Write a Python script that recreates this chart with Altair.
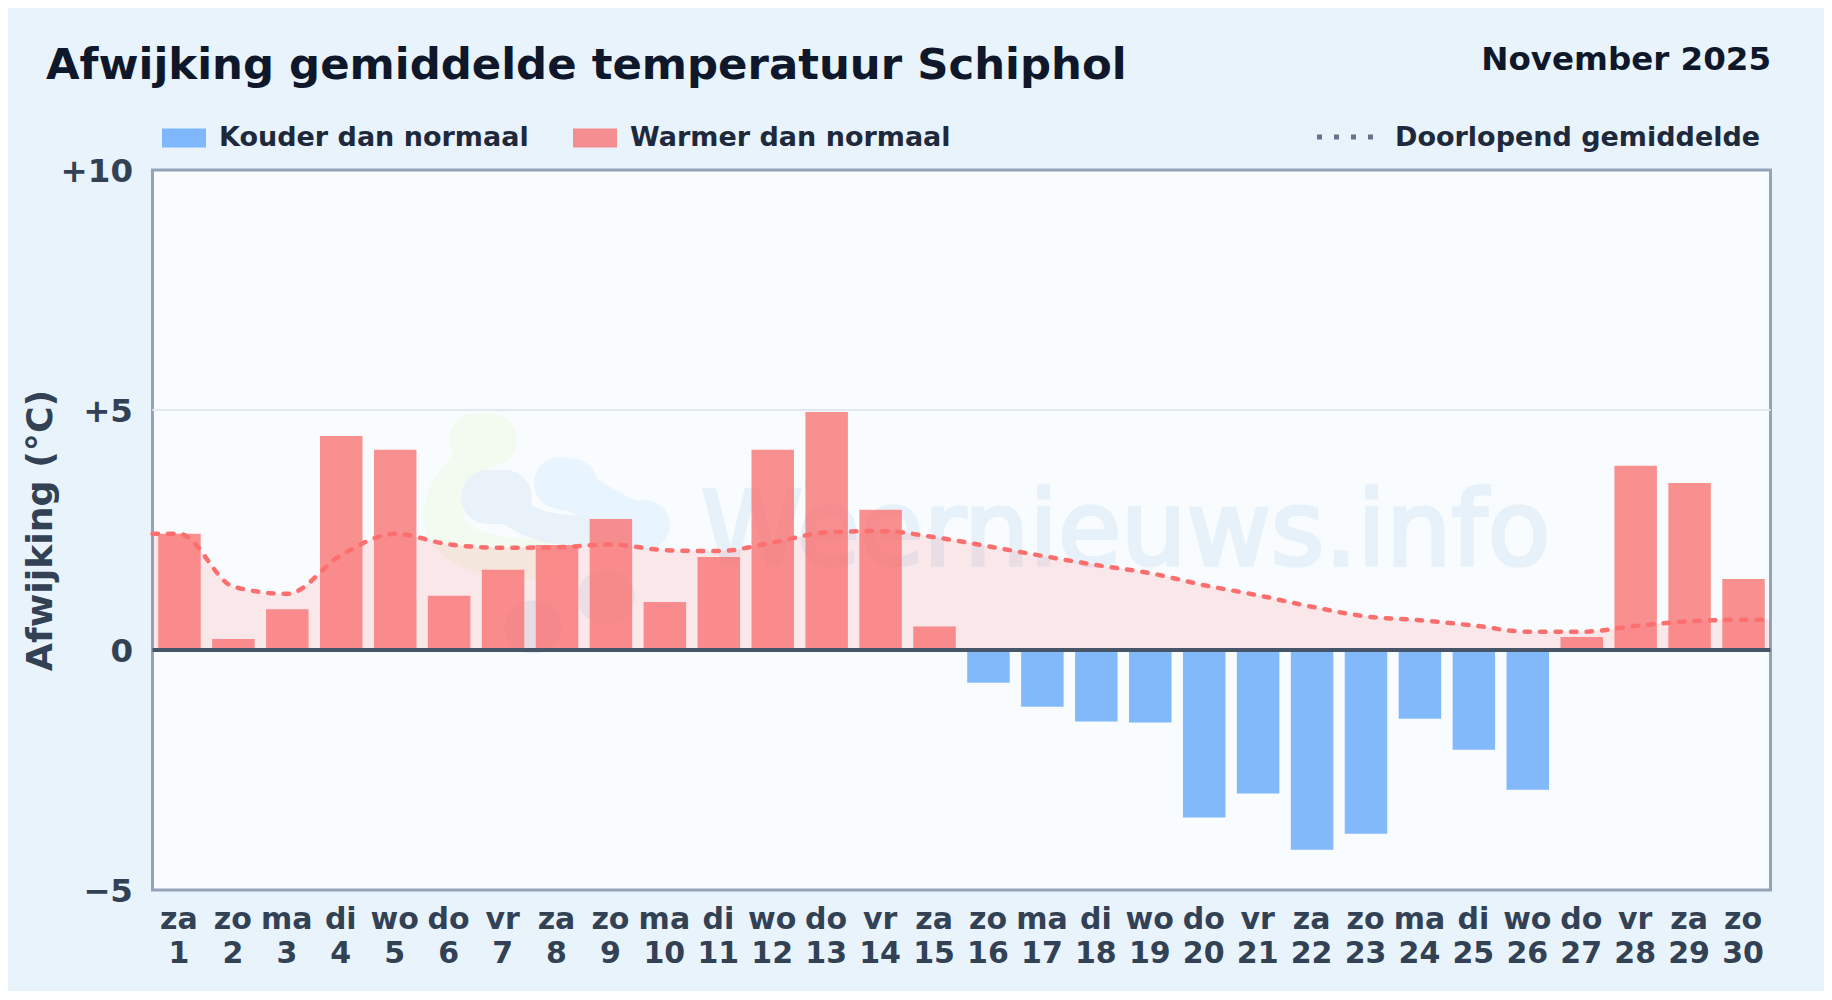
import altair as alt
import pandas as pd

days = list(range(1, 31))
weekdays = ["za","zo","ma","di","wo","do","vr","za","zo","ma","di","wo","do","vr","za",
            "zo","ma","di","wo","do","vr","za","zo","ma","di","wo","do","vr","za","zo"]
deviation = [2.42,0.23,0.85,4.46,4.17,1.13,1.67,2.19,2.73,1.0,1.94,4.17,4.96,2.92,0.49,
             -0.68,-1.18,-1.49,-1.51,-3.49,-2.99,-4.16,-3.83,-1.43,-2.08,-2.91,0.27,3.84,3.48,1.48]
mean_x = [0.5] + days + [30.5]
running_mean = [2.42,2.42,1.32,1.17,1.98,2.42,2.2,2.13,2.14,2.2,2.08,2.06,2.24,2.45,2.48,2.35,
                2.16,1.96,1.77,1.6,1.35,1.14,0.9,0.7,0.62,0.51,0.38,0.38,0.5,0.6,0.63,0.63]
series_names = ["Kouder dan normaal", "Warmer dan normaal"]
series_colors = ["#60a5fa", "#f87171"]
y_ticks = [-5, 0, 5, 10]

FONT = "DejaVu Sans"
W, H = 1618, 720
L, T = 152.5, 170


def abs_x(v):
    return v - L


def abs_y(v):
    return v - T


def data_x(px):
    return (px - L) / W * 30 + 0.5


def data_y(py):
    return 10 - (py - T) / H * 15


bars_df = pd.DataFrame({
    "day": days,
    "val": deviation,
    "soort": [series_names[1] if v >= 0 else series_names[0] for v in deviation],
})
mean_df = pd.DataFrame({"day": mean_x, "m": running_mean})

xs = alt.Scale(domain=[0.5, 30.5], nice=False, zero=False, padding=0)
ys = alt.Scale(domain=[-5, 10], nice=False, zero=False)

weekday_js = "[" + ",".join(f"'{d}'" for d in weekdays) + "]"
x_ax = alt.Axis(
    values=days, title=None, grid=False, domain=False, ticks=False,
    labelFont=FONT, labelFontWeight="bold", labelFontSize=30, labelColor="#334155",
    labelPadding=14.5, labelLineHeight=34, labelOverlap=False, labelFlush=False,
    labelBaseline="top", labelOffset=-1,
    labelExpr=f"[{weekday_js}[datum.value-1], datum.label]")
y_ax = alt.Axis(
    values=y_ticks, title="Afwijking (°C)", grid=False, domain=False, ticks=False,
    labelFont=FONT, labelFontWeight="bold", labelFontSize=32.5, labelColor="#334155",
    labelPadding=20, labelFlush=False, labelOffset=1,
    labelExpr="datum.value > 0 ? '+' + datum.value : (datum.value < 0 ? '\u2212' + abs(datum.value) : '0')",
    titleFont=FONT, titleFontWeight="bold", titleFontSize=36.3, titleColor="#334155",
    titleX=-101.5, titleY=360, titleBaseline="alphabetic", titleAlign="center", titleAngle=270)

# watermark logo: soft blobs as thick rounded strokes
blobs = [
    ("#f3faf0", 54, [(476, 440), (490, 440)]),
    ("#f3faf0", 40, [(470, 465), (437, 505), (448, 540), (490, 557), (540, 560)]),
    ("#e8f4fe", 52, [(560, 483), (572, 485)]),
    ("#e8f4fe", 42, [(575, 490), (610, 512), (640, 525)]),
    ("#e8f4fe", 50, [(640, 525), (645, 525)]),
    ("#e9f1f9", 54, [(488, 497), (505, 497)]),
    ("#e9f1f9", 30, [(510, 510), (540, 530), (610, 532)]),
    ("#e9f1f9", 54, [(604, 597), (608, 597)]),
    ("#e4eef8", 53, [(531, 627), (535, 627)]),
]
blob_layers = []
for colour, width, pts in blobs:
    d = pd.DataFrame({"px": [data_x(p[0]) for p in pts], "py": [data_y(p[1]) for p in pts],
                      "o": list(range(len(pts)))})
    blob_layers.append(
        alt.Chart(d).mark_line(color=colour, strokeWidth=width, strokeCap="round",
                               strokeJoin="round", interpolate="basis", clip=True)
        .encode(x=alt.X("px:Q", scale=xs, axis=x_ax), y=alt.Y("py:Q", scale=ys, axis=y_ax), order="o:Q")
    )


def label(text, x, y, size, color, align="left", weight="bold", opacity=1, font=FONT, **kw):
    return alt.Chart().mark_text(text=text, font=font, fontSize=size, fontWeight=weight,
                                 color=color, align=align, baseline="alphabetic",
                                 opacity=opacity, **kw).encode(
        x=alt.value(abs_x(x)), y=alt.value(abs_y(y)))


wm_text = label("Weernieuws.info", 701, 565, 103, "#93bde6", weight="normal", opacity=0.17,
                stroke="#93bde6", strokeWidth=3.5)

grid = alt.Chart(pd.DataFrame({"v": [5]})).mark_rule(color="#e2e8f0", strokeWidth=2).encode(
    y=alt.Y("v:Q", scale=ys, axis=y_ax))

area = alt.Chart(mean_df).mark_area(color="#ff6b6b", opacity=0.14, interpolate="monotone").encode(
    x=alt.X("day:Q", scale=xs, axis=x_ax),
    y=alt.Y("m:Q", scale=ys, axis=y_ax),
    y2=alt.datum(0),
)

bars = alt.Chart(bars_df).mark_bar(width=42.5, opacity=0.78).encode(
    x=alt.X("day:Q", scale=xs, axis=x_ax),
    y=alt.Y("val:Q", scale=ys, axis=y_ax),
    y2=alt.datum(0),
    color=alt.Color("soort:N", scale=alt.Scale(domain=series_names, range=series_colors),
                    legend=alt.Legend(
                        orient="none", legendX=abs_x(162), legendY=abs_y(123), direction="horizontal",
                        columns=2, title=None, symbolType="M-1,-0.43H1V0.43H-1Z", symbolSize=1936,
                        symbolOpacity=0.78, symbolStrokeWidth=0, labelLimit=500,
                        labelFont=FONT, labelFontWeight="bold", labelFontSize=27,
                        labelColor="#1e293b", labelOffset=13, columnPadding=44, clipHeight=30)),
)

zero = alt.Chart(pd.DataFrame({"v": [0]})).mark_rule(color="#475569", strokeWidth=4).encode(
    y=alt.Y("v:Q", scale=ys, axis=y_ax))

line = alt.Chart(mean_df).mark_line(color="#fb6f6f", strokeWidth=4.5, strokeDash=[5.5, 10],
                                    strokeCap="round", interpolate="monotone").encode(
    x=alt.X("day:Q", scale=xs, axis=x_ax),
    y=alt.Y("m:Q", scale=ys, axis=y_ax),
)

title = label("Afwijking gemiddelde temperatuur Schiphol", 46, 79, 43.4, "#0f172a")
month = label("November 2025", 1771, 70, 32.5, "#0f172a", align="right")
dash_key = alt.Chart().mark_rule(color="#64748b", strokeWidth=5, strokeDash=[5, 12]).encode(
    x=alt.value(abs_x(1317)), x2=alt.value(abs_x(1378)), y=alt.value(abs_y(137)))
dash_text = label("Doorlopend gemiddelde", 1395, 146, 27, "#1e293b")

chart = alt.layer(*blob_layers, wm_text, grid, area, bars, zero, line,
                  title, month, dash_key, dash_text).properties(
    width=W, height=H, background="#e8f3fc",
    padding={"left": L - 8, "top": T - 8, "right": 1816 - (L - 8) - W, "bottom": 983 - (T - 8) - H},
    autosize=alt.AutoSizeParams(type="none"),
).configure_view(fill="#f8fcff", stroke="#94a3b8", strokeWidth=3)

chart.save("out.html", embed_options={"renderer": "svg", "actions": False})
